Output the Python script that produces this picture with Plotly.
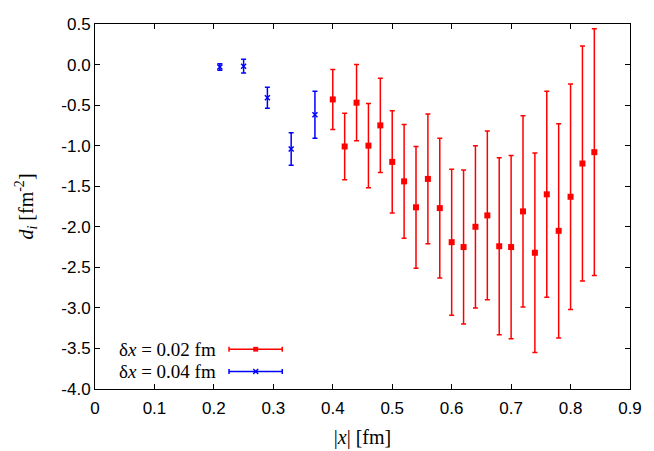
import plotly.graph_objects as go

# delta x = 0.04 fm (blue)
x_blue = [0.21, 0.25, 0.29, 0.33, 0.37]
y_blue = [-0.03, -0.02, -0.41, -1.04, -0.62]
e_blue = [0.04, 0.085, 0.13, 0.20, 0.29]

# delta x = 0.02 fm (red)
x_red = [0.40, 0.42, 0.44, 0.46, 0.48, 0.50, 0.52, 0.54, 0.56, 0.58, 0.60, 0.62,
         0.64, 0.66, 0.68, 0.70, 0.72, 0.74, 0.76, 0.78, 0.80, 0.82, 0.84]
y_red = [-0.43, -1.01, -0.47, -1.00, -0.75, -1.20, -1.44, -1.76, -1.41, -1.77, -2.19, -2.25,
         -2.00, -1.86, -2.24, -2.25, -1.81, -2.32, -1.60, -2.05, -1.63, -1.22, -1.08]
e_red = [0.37, 0.41, 0.47, 0.52, 0.58, 0.63, 0.70, 0.75, 0.80, 0.86, 0.90, 0.95,
         1.00, 1.04, 1.09, 1.13, 1.18, 1.23, 1.27, 1.32, 1.39, 1.45, 1.52]

xtick_vals = [0, 0.1, 0.2, 0.3, 0.4, 0.5, 0.6, 0.7, 0.8, 0.9]
xtick_text = ["0", "0.1", "0.2", "0.3", "0.4", "0.5", "0.6", "0.7", "0.8", "0.9"]
ytick_vals = [0.5, 0.0, -0.5, -1.0, -1.5, -2.0, -2.5, -3.0, -3.5, -4.0]
ytick_text = ["0.5", "0.0", "-0.5", "-1.0", "-1.5", "-2.0", "-2.5", "-3.0", "-3.5", "-4.0"]

RED = "#ff0000"
BLUE = "#0000ff"

fig = go.Figure()

fig.add_trace(go.Scatter(
    x=x_red, y=y_red, mode='markers', name="δx = 0.02 fm",
    marker=dict(symbol='square', size=6, color=RED),
    error_y=dict(type='data', array=e_red, color=RED, thickness=1.5, width=2.5),
    showlegend=False
))
fig.add_trace(go.Scatter(
    x=x_blue, y=y_blue, mode='markers', name="δx = 0.04 fm",
    marker=dict(symbol='x-thin', size=5, color=BLUE, line=dict(color=BLUE, width=1.5)),
    error_y=dict(type='data', array=e_blue, color=BLUE, thickness=1.5, width=2.5),
    showlegend=False
))

# gnuplot-style key: text on the left, sample on the right
legend_items = [("δ<i>x</i> = 0.02 fm", RED, 0.109), ("δ<i>x</i> = 0.04 fm", BLUE, 0.048)]
shapes = []
annotations = []
for label, col, yk in legend_items:
    annotations.append(dict(xref='paper', yref='paper', x=0.229, y=yk, text=label,
                            showarrow=False, xanchor='right', yanchor='middle',
                            font=dict(family="Liberation Serif", size=19, color='black')))
    shapes.append(dict(type='line', xref='paper', yref='paper', x0=0.2505, x1=0.350,
                       y0=yk, y1=yk, line=dict(color=col, width=1.5)))
    for xe in (0.2505, 0.350):
        shapes.append(dict(type='line', xref='paper', yref='paper', x0=xe, x1=xe,
                           y0=yk - 0.007, y1=yk + 0.007, line=dict(color=col, width=1.5)))
# key markers
shapes.append(dict(type='rect', xref='paper', yref='paper', x0=0.2958, x1=0.305,
                   y0=0.109 - 0.0066, y1=0.109 + 0.0066, line=dict(width=0), fillcolor=RED))
for d in (1, -1):
    shapes.append(dict(type='line', xref='paper', yref='paper', x0=0.2958, x1=0.305,
                       y0=0.048 - d * 0.0066, y1=0.048 + d * 0.0066,
                       line=dict(color=BLUE, width=1.5)))

# page body has an 8px margin, so the figure is shrunk by that much
fig.update_layout(
    width=646, height=443,
    margin=dict(l=87, r=24, t=7, b=61),
    paper_bgcolor='white', plot_bgcolor='white',
    font=dict(family="Liberation Sans, Arial", size=17, color='black'),
    xaxis=dict(range=[0, 0.9], tickvals=xtick_vals, ticktext=xtick_text,
               showgrid=False, zeroline=False, showline=True, linecolor='black', linewidth=1,
               mirror='allticks', ticks='inside', ticklen=5, tickcolor='black',
               ticklabelstandoff=4, ticklabeloverflow='allow',
               title=dict(text="|<i>x</i>| [fm]", standoff=12,
                          font=dict(family="Liberation Serif", size=20))),
    yaxis=dict(range=[-4.0, 0.5], tickvals=ytick_vals, ticktext=ytick_text,
               showgrid=False, zeroline=False, showline=True, linecolor='black', linewidth=1,
               mirror='allticks', ticks='inside', ticklen=5, tickcolor='black',
               ticklabeloverflow='allow',
               title=dict(text="<i>d</i><sub><i>i</i></sub> [fm<sup>-2</sup>]", standoff=22,
                          font=dict(family="Liberation Serif", size=20))),
    shapes=shapes,
    annotations=annotations,
)

fig.write_html("out.html")
